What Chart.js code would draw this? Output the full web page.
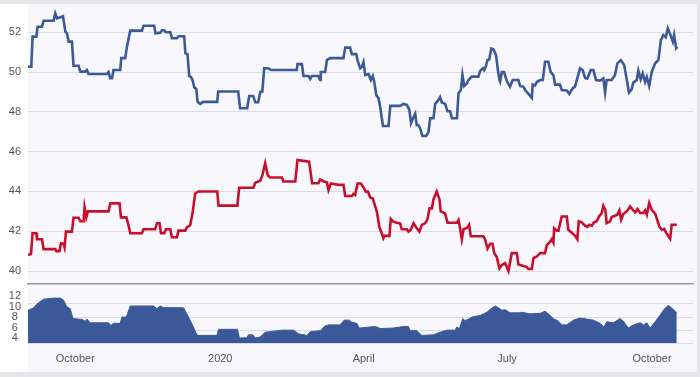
<!DOCTYPE html>
<html>
<head>
<meta charset="utf-8">
<script src="https://cdn.jsdelivr.net/npm/chart.js@4/dist/chart.umd.min.js"></script>
<style>
  html, body { margin: 0; padding: 0; background: #ffffff; }
  #wrap { position: relative; width: 700px; height: 377px; overflow: hidden; background: #ffffff; }
  #topband { position: absolute; left: 0; top: 0; width: 700px; height: 4px; background: #e6e6e8; }
  #botband { position: absolute; left: 0; top: 372px; width: 700px; height: 5px; background: #e6e6e8; }
  #rightband { position: absolute; left: 697px; top: 0; width: 3px; height: 377px; background: #e6e6e8; }
  #panel { position: absolute; left: 28px; top: 4px; width: 669px; height: 368px; background: #f8f8fc; }
  #c1 { position: absolute; left: 0; top: 0; }
  #c2 { position: absolute; left: 0; top: 276px; }
</style>
</head>
<body>
<div id="wrap">
  <div id="panel"></div>
  <div id="topband"></div>
  <div id="botband"></div>
  <div id="rightband"></div>
  <canvas id="c1" width="700" height="292"></canvas>
  <canvas id="c2" width="700" height="96"></canvas>
</div>
<script>
// x values are days since 2019-09-01
const tickDays = [30, 122, 213, 304, 396];
const tickLabels = ['October', '2020', 'April', 'July', 'October'];
const upperTicks = [40, 42, 44, 46, 48, 50, 52];
const lowerTicks = [4, 6, 8, 10, 12];

const blueDays = [0,2.1,2.9,5.3,6.1,8.9,9.9,16.2,17.3,18.4,20.5,22.2,22.6,23.7,24.7,25.8,27.9,28.9,32.1,33.2,36.3,37.4,38.4,50.1,51.1,52.2,53.3,54.3,58.5,59.2,61.7,62.8,64.9,72.3,73.3,80.1,80.9,83.9,85,86.5,87.5,90.3,91.3,94.5,95.5,99.1,99.9,101.2,102.3,103.4,104.4,105.5,106.8,107.6,109.3,111.2,120.1,120.7,133.4,134.6,139.1,140.4,142.9,144.2,146.1,147.4,148.7,149.9,152.4,154.3,170.6,171,173.8,174.8,178,179.1,180.1,184.3,185.4,185.8,188.6,189.7,191.7,200.2,201.3,204.4,205.5,208.3,209.1,210.8,211.9,212.9,214,216.1,217.6,218.8,219.7,221,222.4,223.5,225.2,228.8,229.9,236.1,238.3,240.4,242,243.1,244.6,245.7,246.7,247.8,248.8,250.3,252.6,254.1,255.2,257.3,258.4,260.5,261.5,262.6,264.7,266.2,267.9,269,272.2,273.2,274.7,275.7,276.8,278.5,279.5,281.6,285.8,287,288.7,289.5,290.5,291.6,292.7,294,295.4,297,298.2,299.2,299.6,300.7,302.1,303.8,305.9,307.6,311.2,312.3,314.4,315.5,317.6,319.7,320.3,321.8,322.9,325,326.7,328.1,330.2,331.7,333.4,334.5,337.6,338.7,341.9,343.5,345.7,347.1,348.6,350.3,352,353.5,354.9,357.1,358.8,360.5,363,365.1,366.2,367.2,370.4,372.5,374,376.2,378.3,380,381.4,383.1,384.1,386.3,387.3,388.8,390.1,391.6,392.7,394.2,395.8,398,400,401.6,403.2,404.7,406,407.5,409.2,410,411.3,412.1];
const blueVals = [50.27,50.27,51.78,51.78,52.28,52.28,52.58,52.58,52.95,52.7,52.75,52.8,52.6,52.03,51.95,51.53,51.53,50.32,50.32,50.02,50.02,50.1,49.9,49.9,50.0,49.69,49.69,50.1,50.1,50.7,50.7,51.28,52.08,52.08,52.33,52.33,51.95,51.98,52.1,52.1,52.0,52.0,51.7,51.7,51.8,51.8,50.94,50.9,49.8,49.75,49.6,49.24,49.15,48.5,48.4,48.5,48.5,49.02,49.02,48.18,48.18,48.8,48.8,48.48,48.48,49.0,49.02,50.19,50.19,50.1,50.1,50.4,50.4,49.8,49.8,49.66,49.8,49.8,49.6,50.0,50.0,50.6,50.7,50.7,51.23,51.23,50.9,50.9,50.6,50.19,50.27,50.5,49.85,49.9,49.6,49.8,49.52,48.85,48.68,48.26,47.29,47.29,48.3,48.3,48.4,48.35,48.1,47.43,47.73,47.9,47.33,47.33,47.18,46.79,46.79,46.96,47.68,47.68,48.4,48.6,48.74,48.47,48.4,48.03,48.03,47.68,47.68,48.94,49.1,49.85,49.3,49.43,49.6,49.77,49.77,50.07,50.19,50.1,50.27,50.6,50.63,51.19,51.15,50.85,50.1,49.6,49.52,50.0,50.0,49.56,49.26,49.6,49.6,49.3,49.26,49.1,48.9,48.7,49.37,49.33,49.5,49.6,49.6,50.52,50.52,50.0,49.85,49.37,49.37,49.1,49.07,48.9,49.19,49.27,49.7,50.19,50.1,49.7,49.67,50.1,50.1,49.6,49.57,49.68,48.97,49.6,49.6,49.85,50.44,50.6,50.35,49.6,48.97,49.13,49.47,49.6,50.07,49.63,49.93,49.5,49.75,49.3,50.0,50.44,50.6,51.6,51.86,51.75,52.2,51.9,51.53,51.86,51.2,51.28];

const redDays = [0,1.9,2.9,5.3,5.7,8.9,9.9,17.3,18,20,20.9,22.6,23.2,24.1,27.9,28.9,32.1,33.2,35.3,35.9,37,38,51.1,52.2,58.1,59,62.4,63.8,64.9,72.3,73.3,80.7,81.8,83.5,84.4,86.5,87.5,90.3,91.3,94.5,95.5,99.8,100.8,102.9,104.4,106.1,108.2,120.1,120.9,132.9,134,143,144.2,147.4,148.8,150.5,152.2,153.7,161.1,162.1,169.6,171,173.8,178.4,180.3,184.3,185.4,187.9,189.7,190.7,192.2,197,200.2,201.3,205.5,206.5,207.6,209.1,211.2,212.9,214.4,215.7,217.2,218.8,221.4,223,224.5,225.5,226.2,229.4,230.2,231.9,234,236.1,237.2,240.4,241.4,242.9,244.6,246.7,248.4,249.9,252,253.5,254.8,256.3,257.3,259.4,261.1,261.9,264.7,266.2,272.2,273.2,274.3,275.3,276.4,278.5,279.9,281,289,290.1,291.6,293.3,294.8,295.9,297.5,299.2,300.7,302.8,303.8,304.9,307,310.2,311.2,313.4,316.6,317.6,319.7,320.8,322.9,325,328.1,329.2,331.3,332.4,333.4,333.9,335.6,336.6,338.7,341.9,342.9,345.1,347.2,348.6,349.5,351.4,353.5,355,356.2,357.8,359.2,360.9,362.4,364.1,365.1,366.4,367.2,369.4,370.4,372.5,374,375.3,376.4,377.9,380,382.1,383.8,385.3,386.8,388.5,390.6,391.6,392.7,394.2,395.8,398,399.4,400.7,402.2,403.7,405,406.4,407.5,408.5,411.7];
const redVals = [40.81,40.86,41.9,41.9,41.6,41.6,41.1,41.1,41.0,41.0,41.4,41.37,41.2,41.98,41.98,42.68,42.68,42.5,42.5,43.2,42.7,43.0,43.0,43.4,43.4,42.7,42.7,42.3,41.9,41.9,42.1,42.1,42.4,42.4,41.9,41.9,42.1,42.1,41.7,41.7,42.03,42.03,42.2,42.3,42.9,43.9,44.0,44.0,43.29,43.29,44.19,44.19,44.44,44.54,44.83,45.42,44.8,44.7,44.7,44.5,44.5,45.58,45.55,45.5,44.41,44.41,44.6,44.5,44.45,44.07,44.4,44.33,44.33,43.77,43.77,43.87,43.82,44.4,44.4,44.2,43.99,43.99,43.7,43.65,42.98,42.2,41.9,41.65,41.77,41.77,42.62,42.48,42.43,42.4,42.1,42.1,41.98,42.07,42.4,42.15,41.98,42.32,42.4,42.6,43.15,43.15,43.6,44.0,43.6,43.0,42.9,42.43,42.43,42.57,42.1,41.6,42.1,42.17,42.33,41.75,41.75,41.58,41.13,41.37,41.37,40.9,40.7,40.13,40.3,40.4,40.2,40.0,40.9,40.9,40.33,40.28,40.2,40.1,40.1,40.65,40.73,40.9,40.9,41.3,41.47,41.6,41.43,42.15,42.03,42.03,42.74,42.74,42.07,41.93,41.77,41.6,42.5,42.45,42.28,42.22,42.33,42.28,42.45,42.5,42.75,42.92,43.28,43.08,42.41,42.5,42.72,42.78,42.83,43.05,42.58,42.88,43.0,43.25,43.08,42.95,43.12,42.92,42.92,43.05,42.83,43.42,43.08,42.88,42.55,42.22,42.08,42.12,41.92,41.75,41.62,42.33,42.33];

const volDays = [0,3.4,5.7,9.9,16.2,20.5,22.6,24.7,26.8,28.5,34.2,36.3,37.4,39.5,51.1,52.6,54.3,58.5,59.6,62.4,64.9,79.7,81.8,83.9,86,98.7,100.8,104,107.2,108.2,119.9,120.9,132.9,134.2,138.9,139.9,142.7,144.2,147.4,150.5,161.1,168.5,171.7,177,179.1,185.4,188.6,190.7,198.1,200.6,204,205.5,208.6,210.2,217.2,219.2,221.4,223.5,231.9,238.3,241.4,242.5,246.7,249.9,257.3,261.5,265.8,271.1,272.1,273.8,275.9,277.4,279.5,281.9,287,291.2,294.4,296.5,298.6,300.7,302.8,305.9,311.2,313.4,318.6,325,328.1,330.2,333.4,336.6,338.7,341.9,346.1,350.3,354.6,358.8,363,365.5,367.2,371.5,375.7,377.8,381,384.2,388.5,390.6,392.7,394.8,398,401.2,404.3,406.4,408.5,410.7,411.7];
const volVals = [9.28,9.7,10.5,11.4,11.6,11.6,11.2,9.9,9.6,7.7,7.55,7.2,7.6,6.9,6.9,6.4,6.8,6.8,8.0,8.0,10.1,10.1,9.6,10.1,9.8,9.75,8.6,6.7,4.6,4.5,4.5,5.65,5.65,4.0,4.05,4.6,4.6,4.0,4.2,5.1,5.5,5.5,4.8,4.5,5.2,5.4,6.3,6.5,6.5,7.4,7.4,7.0,6.8,5.9,6.1,6.2,6.1,5.8,5.9,6.2,6.2,5.4,5.4,4.5,4.6,5.1,5.5,5.5,6.1,5.8,7.7,7.3,7.6,8.0,8.3,8.9,9.7,10.1,9.75,9.3,9.4,8.8,8.8,8.9,8.6,8.7,9.1,8.6,7.7,7.2,6.5,6.5,7.4,7.8,7.6,7.4,6.8,6.1,7.1,6.9,7.7,7.2,5.9,6.5,6.9,6.5,6.9,5.9,7.1,8.4,9.7,10.2,9.7,9.1,8.8];
const lowerGrid = [3.05, 5.52, 8, 10.48];

function pts(days, vals) { return days.map((d, i) => ({ x: d, y: vals[i] })); }

const FONT = { family: '"Liberation Sans", Arial, sans-serif', size: 11, lineHeight: 0.8 };
const TICKCOL = '#555555';
const GRIDCOL = '#dcdce4';
const XMIN = 0, XMAX = 422;

Chart.defaults.animation = false;

// upper canvas: 0..292, chart area 5..284
new Chart(document.getElementById('c1'), {
  type: 'line',
  data: {
    datasets: [
      { data: pts(blueDays, blueVals), borderColor: '#3c5a96', borderWidth: 2.6, pointRadius: 0, tension: 0, fill: false },
      { data: pts(redDays, redVals), borderColor: '#c8102e', borderWidth: 2.6, pointRadius: 0, tension: 0, fill: false }
    ]
  },
  options: {
    responsive: false,
    devicePixelRatio: 1,
    layout: { padding: { left: 0, right: 7, top: 5, bottom: 8 } },
    plugins: { legend: { display: false }, tooltip: { enabled: false } },
    scales: {
      x: {
        type: 'linear', min: XMIN, max: XMAX,
        ticks: { display: false },
        grid: { display: false },
        border: { display: true, color: '#9a9aa0', width: 1.5 },
        afterFit: (s) => { s.height = 0; }
      },
      y: {
        type: 'linear', min: 39.35, max: 53.37,
        afterBuildTicks: (s) => { s.ticks = upperTicks.map(v => ({ value: v })); },
        afterFit: (s) => { s.width = 28; },
        ticks: { font: FONT, color: TICKCOL, padding: 0, crossAlign: 'center' },
        grid: { color: GRIDCOL, lineWidth: 1, drawTicks: true, tickLength: 7, tickColor: 'rgba(0,0,0,0)' },
        border: { display: false }
      }
    }
  }
});

// lower canvas: 276..372, chart area 284..343
new Chart(document.getElementById('c2'), {
  type: 'line',
  data: {
    datasets: [
      { data: pts(volDays, volVals), borderColor: '#3b5998', backgroundColor: '#3b5998', borderWidth: 1, pointRadius: 0, tension: 0, fill: 'start' }
    ]
  },
  options: {
    responsive: false,
    devicePixelRatio: 1,
    layout: { padding: { left: 0, right: 7, top: 8, bottom: 0 } },
    plugins: { legend: { display: false }, tooltip: { enabled: false } },
    scales: {
      x: {
        type: 'linear', min: XMIN, max: XMAX,
        afterBuildTicks: (s) => { s.ticks = tickDays.map(v => ({ value: v })); },
        afterFit: (s) => { s.height = 29; },
        ticks: {
          font: { family: '"Liberation Sans", Arial, sans-serif', size: 11 }, color: TICKCOL, padding: 9, autoSkip: false, maxRotation: 0,
          callback: (v) => { const i = tickDays.indexOf(v); return i >= 0 ? tickLabels[i] : ''; }
        },
        grid: { display: false, drawTicks: false },
        border: { display: false }
      },
      y: {
        type: 'linear', min: 3.05, max: 14.29,
        afterBuildTicks: (s) => { s.ticks = lowerTicks.map(v => ({ value: v })); },
        afterFit: (s) => { s.width = 28; },
        ticks: { font: FONT, color: TICKCOL, padding: 0, crossAlign: 'center' },
        grid: { display: false, drawTicks: true, tickLength: 7, tickColor: 'rgba(0,0,0,0)' },
        border: { display: false }
      },
      yg: {
        type: 'linear', position: 'right', min: 3.05, max: 14.29,
        afterBuildTicks: (s) => { s.ticks = lowerGrid.map(v => ({ value: v })); },
        afterFit: (s) => { s.width = 0; },
        ticks: { display: false },
        grid: { color: GRIDCOL, lineWidth: 1, drawTicks: false },
        border: { display: false }
      }
    }
  }
});
</script>
</body>
</html>
